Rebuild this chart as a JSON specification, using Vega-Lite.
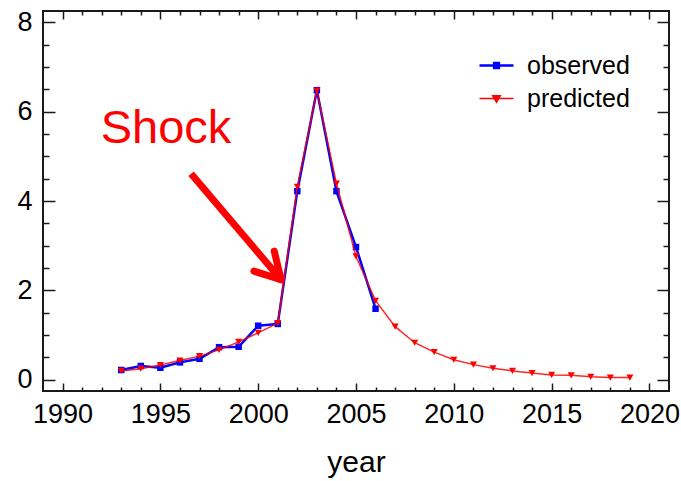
{
  "$schema": "https://vega.github.io/schema/vega-lite/v6.json",
  "width": 626,
  "height": 380,
  "autosize": {"type": "none"},
  "padding": {"left": 43, "top": 11, "right": 12, "bottom": 90},
  "background": "white",
  "config": {
    "font": "Liberation Sans",
    "view": {"stroke": "#1a1a1a", "strokeWidth": 2},
    "axis": {"grid": false, "domain": false, "tickColor": "#1a1a1a", "tickWidth": 1.5, "labelColor": "black", "labelFontSize": 27, "labelFont": "Liberation Sans", "titleFont": "Liberation Sans", "titleColor": "black", "titleFontWeight": "normal", "labelFlush": false, "labelOverlap": false}
  },
  "datasets": {
    "series": [
      {"year": 1993, "value": 0.22, "series": "observed"},
      {"year": 1994, "value": 0.31, "series": "observed"},
      {"year": 1995, "value": 0.27, "series": "observed"},
      {"year": 1996, "value": 0.39, "series": "observed"},
      {"year": 1997, "value": 0.47, "series": "observed"},
      {"year": 1998, "value": 0.73, "series": "observed"},
      {"year": 1999, "value": 0.74, "series": "observed"},
      {"year": 2000, "value": 1.21, "series": "observed"},
      {"year": 2001, "value": 1.25, "series": "observed"},
      {"year": 2002, "value": 4.22, "series": "observed"},
      {"year": 2003, "value": 6.48, "series": "observed"},
      {"year": 2004, "value": 4.22, "series": "observed"},
      {"year": 2005, "value": 2.97, "series": "observed"},
      {"year": 2006, "value": 1.59, "series": "observed"},
      {"year": 1993, "value": 0.2, "series": "predicted"},
      {"year": 1994, "value": 0.25, "series": "predicted"},
      {"year": 1995, "value": 0.33, "series": "predicted"},
      {"year": 1996, "value": 0.43, "series": "predicted"},
      {"year": 1997, "value": 0.53, "series": "predicted"},
      {"year": 1998, "value": 0.67, "series": "predicted"},
      {"year": 1999, "value": 0.85, "series": "predicted"},
      {"year": 2000, "value": 1.05, "series": "predicted"},
      {"year": 2001, "value": 1.27, "series": "predicted"},
      {"year": 2002, "value": 4.32, "series": "predicted"},
      {"year": 2003, "value": 6.47, "series": "predicted"},
      {"year": 2004, "value": 4.39, "series": "predicted"},
      {"year": 2005, "value": 2.76, "series": "predicted"},
      {"year": 2006, "value": 1.77, "series": "predicted"},
      {"year": 2007, "value": 1.19, "series": "predicted"},
      {"year": 2008, "value": 0.83, "series": "predicted"},
      {"year": 2009, "value": 0.62, "series": "predicted"},
      {"year": 2010, "value": 0.45, "series": "predicted"},
      {"year": 2011, "value": 0.34, "series": "predicted"},
      {"year": 2012, "value": 0.26, "series": "predicted"},
      {"year": 2013, "value": 0.2, "series": "predicted"},
      {"year": 2014, "value": 0.15, "series": "predicted"},
      {"year": 2015, "value": 0.11, "series": "predicted"},
      {"year": 2016, "value": 0.1, "series": "predicted"},
      {"year": 2017, "value": 0.07, "series": "predicted"},
      {"year": 2018, "value": 0.05, "series": "predicted"},
      {"year": 2019, "value": 0.05, "series": "predicted"}
    ],
    "shaft": [
      {"xa": 1996.57, "ya": 4.61, "xb": 2001.17, "yb": 2.24}
    ],
    "barbs": [
      {"xa": 2001.17, "ya": 2.24, "xb": 1999.78, "yb": 2.43},
      {"xa": 2001.17, "ya": 2.24, "xb": 2000.82, "yb": 2.88}
    ],
    "note": [
      {"year": 1991.95, "value": 5.3, "text": "Shock"}
    ]
  },
  "resolve": {"axis": {"x": "independent", "y": "independent"}},
  "layer": [
    {
      "data": {"name": "series"},
      "transform": [{"filter": "datum.series === 'observed'"}],
      "mark": {"type": "line", "strokeWidth": 2.5},
      "encoding": {
        "x": {"field": "year", "type": "quantitative", "scale": {"domain": [1989, 2021], "nice": false, "zero": false},
          "axis": {"orient": "bottom", "values": [1990, 1995, 2000, 2005, 2010, 2015, 2020], "format": "d", "tickSize": -8, "labelPadding": 18, "title": "year", "titleFontSize": 30, "titlePadding": 20}},
        "y": {"field": "value", "type": "quantitative", "scale": {"domain": [-0.25, 8.25], "nice": false, "zero": false},
          "axis": {"orient": "left", "values": [0, 2, 4, 6, 8], "tickSize": -12, "labelPadding": 23, "title": null}},
        "color": {"field": "series", "type": "nominal", "scale": {"domain": ["observed", "predicted"], "range": ["#0000ff", "#ff0000"]},
          "legend": {"title": null, "orient": "none", "legendX": 441, "legendY": 42, "symbolSize": 1156, "labelFontSize": 25, "labelFont": "Liberation Sans", "labelColor": "black", "labelOffset": 18, "rowPadding": 7, "padding": 0,
            "encode": {"symbols": {"update": {
              "shape": {"signal": "datum.value === 'observed' ? 'M-1,0H1M-0.14,-0.14H0.14V0.14H-0.14Z' : 'M-1,0H1M-0.22,-0.16H0.22L0,0.22Z'"},
              "fill": {"signal": "datum.value === 'observed' ? '#0000ff' : '#ff0000'"},
              "stroke": {"signal": "datum.value === 'observed' ? '#0000ff' : '#ff5050'"},
              "strokeWidth": {"signal": "datum.value === 'observed' ? 2.5 : 1.5"},
              "opacity": {"value": 1},
              "fillOpacity": {"value": 1},
              "strokeOpacity": {"value": 1}
            }}}}}
      }
    },
    {
      "data": {"name": "series"},
      "transform": [{"filter": "datum.series === 'observed'"}],
      "mark": {"type": "point", "shape": "square", "filled": true, "size": 42, "opacity": 1},
      "encoding": {
        "x": {"field": "year", "type": "quantitative", "scale": {"domain": [1989, 2021], "nice": false, "zero": false},
          "axis": {"orient": "bottom", "values": [1991, 1992, 1993, 1994, 1996, 1997, 1998, 1999, 2001, 2002, 2003, 2004, 2006, 2007, 2008, 2009, 2011, 2012, 2013, 2014, 2016, 2017, 2018, 2019], "tickSize": -4, "labels": false, "title": null}},
        "y": {"field": "value", "type": "quantitative", "scale": {"domain": [-0.25, 8.25], "nice": false, "zero": false},
          "axis": {"orient": "left", "values": [0.5, 1, 1.5, 2.5, 3, 3.5, 4.5, 5, 5.5, 6.5, 7, 7.5], "tickSize": -6, "labels": false, "title": null}},
        "color": {"field": "series", "type": "nominal"}
      }
    },
    {
      "data": {"name": "series"},
      "transform": [{"filter": "datum.series === 'predicted'"}],
      "mark": {"type": "line", "strokeWidth": 1.5, "strokeOpacity": 0.85},
      "encoding": {
        "x": {"field": "year", "type": "quantitative", "scale": {"domain": [1989, 2021], "nice": false, "zero": false},
          "axis": {"orient": "top", "values": [1990, 1995, 2000, 2005, 2010, 2015, 2020], "tickSize": -8, "labels": false, "title": null}},
        "y": {"field": "value", "type": "quantitative", "scale": {"domain": [-0.25, 8.25], "nice": false, "zero": false},
          "axis": {"orient": "right", "values": [0, 2, 4, 6, 8], "tickSize": -12, "labels": false, "title": null}},
        "color": {"field": "series", "type": "nominal"}
      }
    },
    {
      "data": {"name": "series"},
      "transform": [{"filter": "datum.series === 'predicted'"}],
      "mark": {"type": "point", "shape": "triangle-down", "filled": true, "size": 50, "opacity": 1},
      "encoding": {
        "x": {"field": "year", "type": "quantitative", "scale": {"domain": [1989, 2021], "nice": false, "zero": false},
          "axis": {"orient": "top", "values": [1991, 1992, 1993, 1994, 1996, 1997, 1998, 1999, 2001, 2002, 2003, 2004, 2006, 2007, 2008, 2009, 2011, 2012, 2013, 2014, 2016, 2017, 2018, 2019], "tickSize": -4, "labels": false, "title": null}},
        "y": {"field": "value", "type": "quantitative", "scale": {"domain": [-0.25, 8.25], "nice": false, "zero": false},
          "axis": {"orient": "right", "values": [0.5, 1, 1.5, 2.5, 3, 3.5, 4.5, 5, 5.5, 6.5, 7, 7.5], "tickSize": -6, "labels": false, "title": null}},
        "color": {"field": "series", "type": "nominal"}
      }
    },
    {
      "data": {"name": "shaft"},
      "mark": {"type": "rule", "color": "#ff0000", "strokeWidth": 7, "strokeCap": "butt"},
      "encoding": {
        "x": {"field": "xa", "type": "quantitative", "axis": null},
        "y": {"field": "ya", "type": "quantitative", "axis": null},
        "x2": {"field": "xb"},
        "y2": {"field": "yb"}
      }
    },
    {
      "data": {"name": "barbs"},
      "mark": {"type": "rule", "color": "#ff0000", "strokeWidth": 7, "strokeCap": "round"},
      "encoding": {
        "x": {"field": "xa", "type": "quantitative", "axis": null},
        "y": {"field": "ya", "type": "quantitative", "axis": null},
        "x2": {"field": "xb"},
        "y2": {"field": "yb"}
      }
    },
    {
      "data": {"name": "note"},
      "mark": {"type": "text", "color": "#ff0000", "fontSize": 47, "font": "Liberation Sans", "align": "left", "baseline": "alphabetic"},
      "encoding": {
        "x": {"field": "year", "type": "quantitative", "axis": null},
        "y": {"field": "value", "type": "quantitative", "axis": null},
        "text": {"field": "text"}
      }
    }
  ]
}
